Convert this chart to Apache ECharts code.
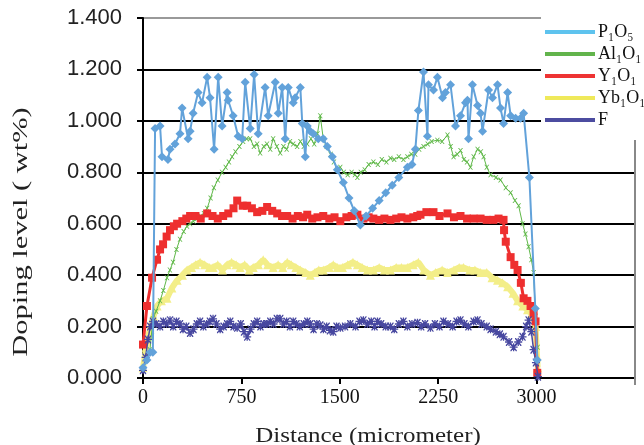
<!DOCTYPE html>
<html><head><meta charset="utf-8">
<script src="https://cdn.jsdelivr.net/npm/echarts@6/dist/echarts.min.js"></script>
<style>html,body{margin:0;padding:0;background:#fff}#c{width:644px;height:445px}</style>
</head><body><div id="c"></div>
<script>
const seriesNames = ['P\u2081O\u2085', 'Al\u2081O\u2081', 'Y\u2081O\u2081', 'Yb\u2081O\u2081', 'F'];
const xTicks = [0, 750, 1500, 2250, 3000];
const p2o5 = [[0,0.04],[30,0.07],[55,0.10],[75,0.10],[92,0.97],[130,0.98],[145,0.86],[190,0.85],[206,0.89],[244,0.91],[282,0.95],[298,1.05],[344,0.93],[359,0.96],[382,1.03],[420,1.11],[450,1.07],[489,1.17],[511,1.09],[542,0.89],[573,1.17],[603,0.98],[641,1.11],[649,1.08],[687,1.02],[725,0.94],[756,0.93],[779,1.15],[817,0.97],[847,1.18],[878,0.95],[931,1.13],[954,1.02],[1008,1.15],[1031,1.03],[1061,1.13],[1084,0.93],[1107,1.13],[1145,1.07],[1160,1.09],[1199,1.13],[1214,0.99],[1237,0.86],[1252,0.98],[1275,0.96],[1298,0.95],[1336,0.93],[1374,0.93],[1405,0.90],[1443,0.86],[1481,0.81],[1527,0.76],[1570,0.70],[1610,0.65],[1657,0.595],[1700,0.63],[1750,0.66],[1800,0.69],[1850,0.72],[1900,0.75],[1950,0.78],[2015,0.82],[2050,0.83],[2076,0.89],[2099,1.04],[2138,1.19],[2168,0.94],[2176,1.14],[2214,1.12],[2244,1.17],[2283,1.09],[2305,1.11],[2344,1.14],[2382,0.98],[2420,1.02],[2458,1.07],[2473,1.08],[2481,0.93],[2511,1.14],[2550,1.06],[2573,1.03],[2588,0.96],[2634,1.12],[2664,1.09],[2702,1.14],[2725,1.05],[2748,0.99],[2779,1.11],[2802,1.02],[2840,1.01],[2878,1.01],[2901,1.03],[2945,0.78],[2990,0.27],[3005,0.07]];
const al2o3 = [[0,0.03],[25,0.07],[53,0.11],[76,0.23],[100,0.26],[130,0.30],[155,0.34],[183,0.39],[205,0.42],[229,0.45],[255,0.50],[282,0.54],[310,0.57],[335,0.59],[359,0.60],[385,0.61],[412,0.62],[440,0.63],[465,0.64],[489,0.66],[515,0.70],[540,0.74],[570,0.77],[603,0.80],[630,0.82],[655,0.84],[679,0.86],[705,0.88],[735,0.90],[763,0.92],[790,0.93],[817,0.93],[845,0.90],[870,0.91],[893,0.875],[920,0.90],[945,0.91],[970,0.89],[992,0.93],[1020,0.90],[1046,0.875],[1070,0.90],[1095,0.89],[1120,0.92],[1145,0.91],[1175,0.90],[1200,0.92],[1225,0.90],[1252,0.91],[1280,0.93],[1305,0.91],[1330,0.95],[1351,1.02],[1374,0.93],[1400,0.90],[1430,0.87],[1455,0.84],[1481,0.81],[1504,0.82],[1530,0.80],[1560,0.79],[1590,0.80],[1615,0.79],[1634,0.78],[1660,0.80],[1690,0.81],[1720,0.83],[1756,0.84],[1790,0.83],[1820,0.85],[1855,0.84],[1886,0.855],[1915,0.85],[1950,0.86],[1985,0.85],[2015,0.86],[2045,0.87],[2075,0.87],[2105,0.89],[2138,0.90],[2170,0.91],[2200,0.92],[2244,0.925],[2280,0.92],[2321,0.945],[2345,0.90],[2367,0.86],[2395,0.87],[2420,0.885],[2445,0.85],[2470,0.84],[2496,0.82],[2520,0.86],[2550,0.89],[2575,0.88],[2596,0.86],[2620,0.82],[2649,0.79],[2690,0.78],[2725,0.77],[2765,0.74],[2802,0.72],[2835,0.69],[2863,0.67],[2893,0.60],[2915,0.56],[2939,0.51],[2960,0.46],[2977,0.41],[2992,0.24],[3008,0.12]];
const y2o3 = [[0,0.13],[30,0.28],[69,0.39],[107,0.46],[130,0.50],[153,0.52],[180,0.55],[206,0.575],[235,0.59],[260,0.60],[300,0.61],[330,0.62],[359,0.63],[400,0.63],[440,0.62],[489,0.64],[530,0.63],[570,0.62],[611,0.63],[650,0.64],[690,0.66],[718,0.69],[760,0.67],[794,0.67],[830,0.66],[870,0.645],[910,0.65],[946,0.665],[985,0.65],[1023,0.64],[1060,0.63],[1099,0.63],[1140,0.62],[1180,0.63],[1220,0.625],[1252,0.635],[1290,0.62],[1330,0.625],[1374,0.63],[1420,0.62],[1460,0.625],[1504,0.61],[1550,0.625],[1590,0.63],[1634,0.635],[1680,0.62],[1720,0.625],[1756,0.62],[1800,0.615],[1840,0.62],[1886,0.615],[1930,0.62],[1970,0.625],[2015,0.62],[2060,0.625],[2090,0.63],[2115,0.635],[2160,0.645],[2214,0.645],[2260,0.63],[2321,0.64],[2370,0.625],[2420,0.63],[2470,0.62],[2520,0.62],[2573,0.62],[2620,0.615],[2670,0.615],[2710,0.62],[2748,0.615],[2752,0.575],[2765,0.53],[2802,0.47],[2830,0.44],[2855,0.42],[2880,0.37],[2901,0.31],[2930,0.30],[2954,0.28],[2977,0.25],[2992,0.22],[3005,0.02]];
const yb2o3 = [[0,0.04],[25,0.12],[53,0.19],[80,0.24],[107,0.28],[140,0.30],[183,0.31],[220,0.35],[260,0.38],[300,0.40],[336,0.42],[370,0.43],[400,0.44],[435,0.45],[470,0.44],[505,0.43],[534,0.43],[570,0.44],[605,0.42],[641,0.44],[675,0.45],[710,0.44],[740,0.43],[775,0.44],[810,0.42],[840,0.43],[880,0.44],[916,0.46],[950,0.44],[992,0.43],[1030,0.44],[1065,0.43],[1099,0.45],[1130,0.44],[1165,0.43],[1199,0.42],[1240,0.41],[1275,0.40],[1310,0.41],[1340,0.42],[1374,0.42],[1420,0.43],[1450,0.44],[1481,0.43],[1520,0.43],[1560,0.44],[1600,0.45],[1634,0.44],[1670,0.43],[1710,0.42],[1756,0.42],[1800,0.43],[1840,0.42],[1886,0.42],[1930,0.43],[1970,0.43],[2015,0.43],[2060,0.44],[2099,0.45],[2140,0.42],[2191,0.40],[2230,0.41],[2280,0.42],[2321,0.41],[2370,0.42],[2410,0.43],[2443,0.43],[2490,0.42],[2530,0.42],[2573,0.41],[2620,0.41],[2660,0.39],[2702,0.38],[2740,0.37],[2779,0.355],[2820,0.33],[2855,0.30],[2895,0.28],[2931,0.265],[2960,0.25],[2977,0.24],[2992,0.20],[3008,0.04]];
const fluor = [[0,0.03],[20,0.08],[38,0.15],[55,0.20],[76,0.22],[100,0.21],[130,0.20],[155,0.22],[180,0.21],[206,0.225],[230,0.20],[255,0.22],[282,0.21],[305,0.19],[330,0.20],[359,0.175],[385,0.19],[410,0.21],[435,0.22],[460,0.20],[485,0.21],[510,0.22],[534,0.23],[560,0.21],[588,0.19],[615,0.20],[641,0.21],[665,0.22],[690,0.20],[718,0.195],[745,0.21],[770,0.18],[794,0.16],[820,0.19],[845,0.21],[870,0.22],[895,0.20],[920,0.21],[946,0.21],[970,0.22],[995,0.21],[1020,0.23],[1046,0.23],[1070,0.21],[1095,0.22],[1120,0.20],[1145,0.22],[1170,0.21],[1195,0.20],[1225,0.21],[1252,0.22],[1275,0.21],[1300,0.19],[1325,0.21],[1351,0.205],[1375,0.19],[1400,0.20],[1425,0.185],[1450,0.18],[1475,0.20],[1504,0.195],[1540,0.20],[1580,0.21],[1620,0.20],[1650,0.22],[1680,0.225],[1710,0.21],[1740,0.22],[1765,0.20],[1787,0.22],[1815,0.21],[1850,0.20],[1886,0.20],[1915,0.19],[1950,0.21],[1985,0.22],[2015,0.20],[2050,0.21],[2092,0.215],[2120,0.20],[2150,0.21],[2191,0.195],[2225,0.21],[2260,0.20],[2290,0.22],[2325,0.21],[2360,0.20],[2390,0.22],[2420,0.225],[2450,0.21],[2480,0.20],[2520,0.22],[2550,0.225],[2580,0.21],[2620,0.20],[2649,0.19],[2690,0.18],[2720,0.17],[2748,0.16],[2790,0.14],[2825,0.12],[2860,0.14],[2893,0.16],[2920,0.20],[2939,0.225],[2960,0.18],[2977,0.11],[2995,0.06],[3010,0.005]];

const colors = ['#62a2da', '#5fb848', '#ee2f2f', '#f3ee88', '#4848a0'];
const legendColors = ['#5ec3ee', '#62b44c', '#ee3333', '#efe95a', '#4c4ca0'];
const xSym = 'path://M0,0 L2,0 L5,3.5 L8,0 L10,0 L6,5 L10,10 L8,10 L5,6.5 L2,10 L0,10 L4,5 Z';
const starSym = 'path://M4.2,0 L5.8,0 L5.8,4.2 L10,4.2 L10,5.8 L5.8,5.8 L5.8,10 L4.2,10 L4.2,5.8 L0,5.8 L0,4.2 L4.2,4.2 Z M1,0 L2.2,0 L9,8.8 L9,10 L7.8,10 L1,1.2 Z M7.8,0 L9,0 L9,1.2 L2.2,10 L1,10 L1,8.8 Z';

const chart = echarts.init(document.getElementById('c'), null, {renderer: 'canvas'});
const data = [p2o5, al2o3, y2o3, yb2o3, fluor];
const styles = [
  {symbol: 'diamond', symbolSize: 9, width: 2, z: 7},
  {symbol: xSym, symbolSize: 5, width: 1, z: 3},
  {symbol: 'rect', symbolSize: 8, width: 3, z: 4},
  {symbol: 'triangle', symbolSize: 9, width: 6, z: 2},
  {symbol: starSym, symbolSize: 8, width: 1.5, z: 5}
];
chart.setOption({
  animation: false,
  backgroundColor: '#fff',
  grid: {left: 143, right: 9, top: 18, bottom: 67, containLabel: false},
  xAxis: {
    type: 'value', min: 0, max: 3750, interval: 750,
    axisLine: {show: true, onZero: false, lineStyle: {color: '#000', width: 2}},
    axisTick: {show: true, length: 6, lineStyle: {color: '#000', width: 2}},
    splitLine: {show: false},
    axisLabel: {color: '#111', fontFamily: 'Liberation Serif', fontSize: 20, margin: 10,
      formatter: v => (xTicks.indexOf(v) >= 0 ? String(v) : '')}
  },
  yAxis: {
    type: 'value', min: 0, max: 1.4, interval: 0.2,
    axisLine: {show: true, lineStyle: {color: '#000', width: 2}},
    axisTick: {show: true, length: 6, lineStyle: {color: '#000', width: 2}},
    splitLine: {show: true, lineStyle: {color: ['#000','#000','#000','#000','#000','#000','#000','#999'], width: 2}},
    axisLabel: {color: '#222', fontFamily: 'Liberation Sans', fontSize: 22, margin: 21,
      formatter: v => v.toFixed(3)}
  },
  legend: {
    orient: 'vertical', left: 540, top: 18, itemWidth: 50, itemHeight: 4, itemGap: 4,
    icon: 'rect', z: 10,
    textStyle: {fontFamily: 'Liberation Serif', fontSize: 18, color: '#111', lineHeight: 16, padding: [0,0,0,-2]},
    data: seriesNames.map((n, i) => ({name: n, itemStyle: {color: legendColors[i]}}))
  },
  graphic: [
    {type: 'rect', left: 541, top: 0, shape: {width: 103, height: 138}, style: {fill: '#fff'}, z: 5},
    {type: 'line', shape: {x1: 635, y1: 140, x2: 635, y2: 385}, style: {stroke: '#888', lineWidth: 2}, z: 5},
    {type: 'text', x: 368, y: 437, scaleX: 1.25, style: {text: 'Distance (micrometer)', font: '20px "Liberation Serif"', fill: '#222', textAlign: 'center', textVerticalAlign: 'middle'}},
    {type: 'text', x: 21, y: 232, rotation: Math.PI / 2, scaleX: 1.45, style: {text: 'Doping level ( wt%)', font: '21px "Liberation Serif"', fill: '#222', textAlign: 'center', textVerticalAlign: 'middle'}}
  ],
  series: data.map((d, i) => ({
    name: seriesNames[i], type: 'line', data: d, z: styles[i].z,
    symbol: styles[i].symbol, symbolSize: styles[i].symbolSize, showAllSymbol: true,
    lineStyle: {color: colors[i], width: styles[i].width},
    itemStyle: {color: colors[i]}
  }))
});
</script></body></html>
